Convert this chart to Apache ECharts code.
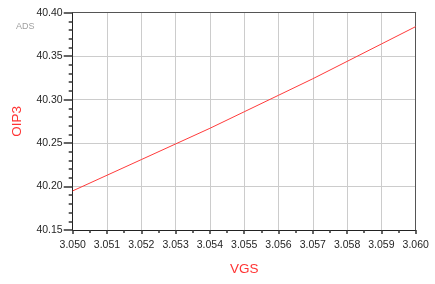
<!DOCTYPE html>
<html>
<head>
<meta charset="utf-8">
<script src="https://cdn.jsdelivr.net/npm/echarts@6/dist/echarts.min.js"></script>
<style>html,body{margin:0;padding:0;background:#fff;}#c{width:435px;height:284px;}</style>
</head>
<body>
<div id="c"></div>
<script>
const vgs = [3.050, 3.051, 3.052, 3.053, 3.054, 3.055, 3.056, 3.057, 3.058, 3.059, 3.060];
const oip3 = [40.195, 40.213, 40.231, 40.249, 40.267, 40.286, 40.305, 40.324, 40.344, 40.364, 40.384];
const xTitle = 'VGS';
const yTitle = 'OIP3';
const tag = 'ADS';

const X0 = 3.050, X1 = 3.060, Y0 = 40.15, Y1 = 40.40;
const chart = echarts.init(document.getElementById('c'), null, {renderer: 'canvas'});
const font = 'Arial, Liberation Sans, sans-serif';
const lab = {margin: 10, color: '#262626', fontSize: 10.5, fontFamily: font};
chart.setOption({
  animation: false,
  backgroundColor: '#fff',
  title: {
    text: tag, left: 11, top: 17.5,
    textStyle: {fontSize: 9, fontWeight: 'normal', color: '#a0a0a0', fontFamily: font}
  },
  grid: {left: 72.7, right: 19.3, top: 12.7, bottom: 54, show: false},
  xAxis: [{
    type: 'value', min: X0, max: X1, interval: 0.001, position: 'bottom',
    name: xTitle, nameLocation: 'middle', nameGap: 32,
    nameTextStyle: {color: '#ff3333', fontSize: 13.5, fontFamily: font},
    axisLine: {show: true, onZero: false, lineStyle: {color: '#222', width: 1}},
    axisTick: {show: true, length: 4, lineStyle: {color: '#333', width: 1.5}},
    minorTick: {show: true, splitNumber: 2, length: 3, lineStyle: {color: '#333', width: 1.5}},
    splitLine: {show: true, lineStyle: {color: '#cccccc', width: 1}},
    axisLabel: Object.assign({}, lab, {formatter: v => v.toFixed(3)})
  }, {
    type: 'value', min: X0, max: X1, position: 'top',
    axisLine: {show: true, onZero: false, lineStyle: {color: '#555', width: 1}},
    axisTick: {show: false}, axisLabel: {show: false}, splitLine: {show: false}
  }],
  yAxis: [{
    type: 'value', min: Y0, max: Y1, interval: 0.05, position: 'left',
    name: yTitle, nameLocation: 'middle', nameGap: 48, nameRotate: 90,
    nameTextStyle: {color: '#ff3333', fontSize: 13.5, fontFamily: font},
    axisLine: {show: true, onZero: false, lineStyle: {color: '#222', width: 1}},
    axisTick: {show: true, length: 9, lineStyle: {color: '#333', width: 1.5}},
    minorTick: {show: true, splitNumber: 5, length: 4, lineStyle: {color: '#333', width: 1.5}},
    splitLine: {show: true, lineStyle: {color: '#cccccc', width: 1}},
    axisLabel: Object.assign({}, lab, {formatter: v => v.toFixed(2)})
  }, {
    type: 'value', min: Y0, max: Y1, position: 'right',
    axisLine: {show: true, onZero: false, lineStyle: {color: '#555', width: 1}},
    axisTick: {show: false}, axisLabel: {show: false}, splitLine: {show: false}
  }],
  series: [{
    type: 'line',
    data: vgs.map((x, i) => [x, oip3[i]]),
    showSymbol: false,
    smooth: false,
    lineStyle: {color: '#ff3b3b', width: 1},
    z: 5
  }]
});
</script>
</body>
</html>
